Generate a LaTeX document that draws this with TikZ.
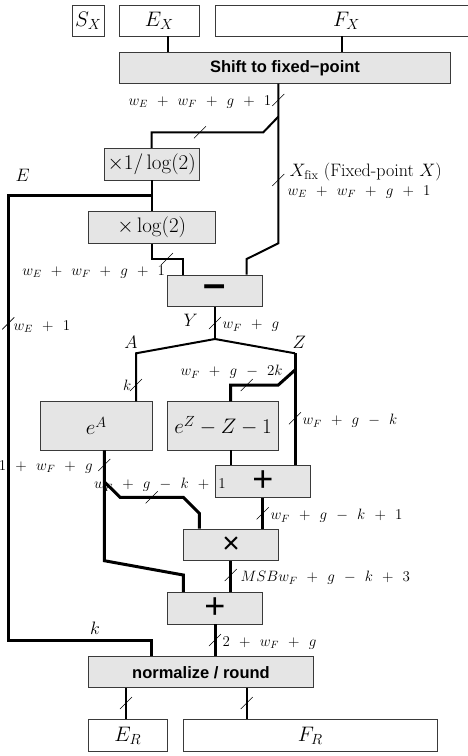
\RequirePackage{fix-cm}
\documentclass[tikz,border=0pt]{standalone}
\usepackage{fontspec}
\setsansfont{Liberation Sans}
\usepackage{xcolor}
\usepackage{tikz}
\definecolor{BoxFill}{HTML}{E5E5E5}
\definecolor{BoxLine}{HTML}{3A3A3A}
\newcommand{\boxmath}{\fontsize{21}{25}\selectfont}
\newcommand{\sigfont}{\fontsize{18}{21}\selectfont}
\newcommand{\wfont}{\fontsize{15}{17}\selectfont\medmuskip=11mu\relax}
\newcommand{\opfont}{\sffamily\bfseries\fontsize{16.5}{19}\selectfont}
\tikzset{
  blk/.style={draw=BoxLine,fill=BoxFill,line width=0.8pt,inner sep=0pt,font=\boxmath},
  reg/.style={draw=BoxLine,fill=white,line width=0.8pt,inner sep=0pt,font=\boxmath},
  wire/.style={line width=2pt},
  bus/.style={line width=3pt},
  busmark/.style={line width=0.6pt},
  sig/.style={font=\sigfont,inner sep=0.5pt},
  wlab/.style={font=\wfont,inner sep=0.5pt}
}

\begin{document}
\begin{tikzpicture}[x=1pt,y=-1pt]
\path[use as bounding box] (0,0) rectangle (468,756);
% input fields
\node[reg,minimum width=31.3,minimum height=31] (SX) at (88.3,20.5) {$S_X$};
\node[reg,minimum width=80,minimum height=31] (EX) at (159.3,20.5) {$E_X$};
\node[reg,minimum width=263,minimum height=31] (FX) at (346.5,20.5) {$F_X$};
\node[blk,minimum width=331.4,minimum height=30.6,font=\opfont] (Shift) at (285,68) {Shift to fixed−point};
% E = round(X/log 2), then E*log 2
\node[blk,minimum width=95.3,minimum height=31.7] (L1) at (151.7,164.2) {$\times 1/\log(2)$};
\node[blk,minimum width=126.7,minimum height=31.6] (L2) at (151.7,227.5) {$\times\log(2)$};
\node[blk,minimum width=95.4,minimum height=31.7,font=\sffamily\bfseries\fontsize{40}{40}\selectfont] (Sub) at (215,290.8) {–};
% exp tables
\node[blk,minimum width=111.3,minimum height=48.3] (ExpA) at (96.3,425.8) {$e^A$};
\node[blk,minimum width=111.4,minimum height=48.3] (ExpZ) at (223,425.8) {$e^Z-Z-1$};
\node[blk,minimum width=95,minimum height=32.3,font=\sffamily\fontsize{36}{36}\selectfont] (Add1) at (262.8,481.2) {+};
\node[blk,minimum width=95,minimum height=31.7,font=\sffamily\fontsize{30}{30}\selectfont] (Mul) at (231.2,544.8) {×};
\node[blk,minimum width=95.4,minimum height=31.7,font=\sffamily\fontsize{36}{36}\selectfont] (Add2) at (215,608.2) {+};
\node[blk,minimum width=225.4,minimum height=31,font=\opfont] (Norm) at (201,672.2) {normalize / round};
% result fields
\node[reg,minimum width=79,minimum height=32.4] (ER) at (127.8,735.5) {$E_R$};
\node[reg,minimum width=254,minimum height=32.4] (FR) at (310.3,735.5) {$F_R$};

% datapath
\draw[wire] (167.7,0 |- EX.south) -- (167.7,0 |- Shift.north);
\draw[wire] (342.3,0 |- FX.south) -- (342.3,0 |- Shift.north);
\draw[wire] (278.3,0 |- Shift.south) -- (278.3,243.3) -- (246.7,259) -- (246.7,0 |- Sub.north);
\coordinate (xs) at (278.3,116.7);
\draw[wire] (xs) -- (263.3,132.3) -- (151.7,132.3) -- (L1.north);
\draw[wire] (L1.south) -- (L2.north);
\coordinate (es) at (151.7,195);
\draw[bus] (es) -- (8.3,195) -- (8.3,640) -- (151.7,640) -- (151.7,0 |- Norm.north);
\draw[wire] (L2.south) -- (151.7,259) -- (183.3,259) -- (183.3,0 |- Sub.north);
\coordinate (ys) at (215,339);
\draw[wire] (Sub.south) -- (ys);
\draw[wire] (ys) -- (136,353.3) -- (136,0 |- ExpA.north);
\draw[wire] (ys) -- (295,353.3);
\draw[bus] (295,353.3) -- (295,0 |- Add1.north);
\coordinate (zs) at (295,370);
\draw[bus] (zs) -- (278.3,385) -- (230.7,385) -- (230.7,0 |- ExpZ.north);
\draw[wire] (230.7,0 |- ExpZ.south) -- (230.7,0 |- Add1.north);
\draw[bus] (104.3,0 |- ExpA.south) -- (104.3,560.7) -- (183.3,575) -- (183.3,0 |- Add2.north);
\coordinate (as) at (104.3,481.7);
\draw[bus] (as) -- (120,497.3) -- (183.3,497.3) -- (199.3,513.3) -- (199.3,0 |- Mul.north);
\draw[bus] (262.7,0 |- Add1.south) -- (262.7,0 |- Mul.north);
\draw[bus] (230.7,0 |- Mul.south) -- (230.7,0 |- Add2.north);
\draw[bus] (Add2.south) -- (215,0 |- Norm.north);
\draw[wire] (126,0 |- Norm.south) -- (126,0 |- ER.north);
\draw[wire] (246.7,0 |- Norm.south) -- (246.7,0 |- FR.north);

% bus width marks
\foreach \p in {(278.3,100),(200,132.3),(278.3,180),(167,259),(8.3,323.3),(215,323),(136,385),(246.7,385),(295,418.3),(104.3,465),(151.7,497.3),(262.7,513.3),(230.7,575),(215,640),(126,703),(246.7,703)}
  \draw[busmark] \p ++(-6,6) -- ++(12,-12);

% signal names
\node[sig] (lE) at (22.7,175) {$E$};
\node[sig,anchor=west] (lX) at (289,172.5) {$X_{\mathrm{fix}}$ (Fixed-point $X$)};
\node[sig] (lY) at (190.7,320) {$Y$};
\node[sig] (lA) at (131,342.7) {$A$};
\node[sig] (lZ) at (299.3,342.7) {$Z$};
\node[sig] (lk) at (95,628.3) {$k$};

% widths
\node[wlab,anchor=east] (w1) at (272,102) {$w_E+w_F+g+1$};
\node[wlab,anchor=west] (w2) at (287,192) {$w_E+w_F+g+1$};
\node[wlab,anchor=east] (w3) at (165.7,272) {$w_E+w_F+g+1$};
\node[wlab,anchor=west] (w4) at (13,327) {$w_E+1$};
\node[wlab,anchor=west] (w5) at (222,326) {$w_F+g$};
\node[wlab,anchor=east] (w6) at (283.3,372) {$w_F+g-2k$};
\node[wlab,anchor=east] (w7) at (132,385) {$k$};
\node[wlab,anchor=west] (w8) at (302,421) {$w_F+g-k$};
\node[wlab,anchor=east] (w9) at (93.3,467) {$1+w_F+g$};
\node[wlab,anchor=west] (w10) at (93.3,485) {$w_F+g-k+1$};
\node[wlab,anchor=west] (w11) at (270,516) {$w_F+g-k+1$};
\node[wlab,anchor=west] (w12) at (240,578) {$MSB w_F+g-k+3$};
\node[wlab,anchor=west] (w13) at (222,643) {$2+w_F+g$};
\end{tikzpicture}
\end{document}
